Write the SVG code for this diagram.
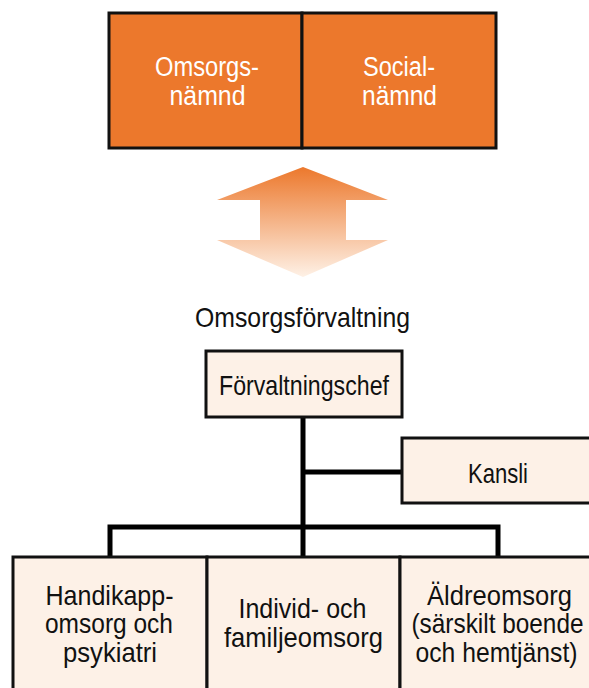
<svg xmlns="http://www.w3.org/2000/svg" width="589" height="688" viewBox="0 0 589 688">
<style>
  .t { font-family: "Liberation Sans", Arial, sans-serif; font-size: 28px; fill: #111; text-anchor: middle; }
  .w { fill: #ffffff; font-size: 27px; }
  .box { fill: #FDF1E7; stroke: #111; stroke-width: 3; }
  .obox { fill: #EC782C; stroke: #111; stroke-width: 3; }
  .conn { fill: none; stroke: #000; stroke-width: 5; stroke-linejoin: miter; stroke-linecap: butt; }
</style>
<defs>
  <linearGradient id="ag" x1="0" y1="0" x2="0" y2="1">
    <stop offset="0" stop-color="#EC782C"/>
    <stop offset="1" stop-color="#FEF1E6"/>
  </linearGradient>
</defs>
<rect width="589" height="688" fill="#ffffff"/>

<g id="connectors">
  <path class="conn" d="M303 417 V557"/>
  <path class="conn" d="M303 472 H402"/>
  <path class="conn" d="M110 557 V527 H498 V557"/>
</g>

<g id="omsorgsnamnd">
  <rect class="obox" x="109" y="13" width="193" height="135"/>
  <text class="t w" x="207" y="76" textLength="104" lengthAdjust="spacingAndGlyphs">Omsorgs-</text>
  <text class="t w" x="207.5" y="105" textLength="76" lengthAdjust="spacingAndGlyphs">nämnd</text>
</g>
<g id="socialnamnd">
  <rect class="obox" x="302" y="13" width="194" height="135"/>
  <text class="t w" x="399" y="76" textLength="72" lengthAdjust="spacingAndGlyphs">Social-</text>
  <text class="t w" x="399.5" y="105" textLength="75" lengthAdjust="spacingAndGlyphs">nämnd</text>
</g>

<g id="arrow">
  <polygon points="303,167 388,200 346,200 346,240 388,240 303,277 217,240 260,240 260,200 217,200" fill="url(#ag)"/>
</g>

<g id="omsorgsforvaltning">
  <text class="t" x="302.5" y="327" textLength="215" lengthAdjust="spacingAndGlyphs">Omsorgsförvaltning</text>
</g>

<g id="forvaltningschef">
  <rect class="box" x="206" y="351" width="196" height="66"/>
  <text class="t" x="304" y="395" textLength="170" lengthAdjust="spacingAndGlyphs">Förvaltningschef</text>
</g>

<g id="kansli">
  <rect class="box" x="402" y="438" width="190" height="65"/>
  <text class="t" x="498" y="483" textLength="60" lengthAdjust="spacingAndGlyphs">Kansli</text>
</g>

<g id="handikapp">
  <rect class="box" x="13" y="557" width="194" height="150"/>
  <text class="t" x="109.5" y="605" textLength="128" lengthAdjust="spacingAndGlyphs">Handikapp-</text>
  <text class="t" x="109" y="633" textLength="128" lengthAdjust="spacingAndGlyphs">omsorg och</text>
  <text class="t" x="110" y="662" textLength="94" lengthAdjust="spacingAndGlyphs">psykiatri</text>
</g>
<g id="individ">
  <rect class="box" x="207" y="557" width="193" height="150"/>
  <text class="t" x="302.5" y="618" textLength="128" lengthAdjust="spacingAndGlyphs">Individ- och</text>
  <text class="t" x="303.5" y="647" textLength="159" lengthAdjust="spacingAndGlyphs">familjeomsorg</text>
</g>
<g id="aldreomsorg">
  <rect class="box" x="400" y="557" width="192" height="150"/>
  <text class="t" x="499.5" y="605" textLength="145" lengthAdjust="spacingAndGlyphs">Äldreomsorg</text>
  <text class="t" x="497.5" y="633" textLength="172" lengthAdjust="spacingAndGlyphs">(särskilt boende</text>
  <text class="t" x="496.5" y="662" textLength="162" lengthAdjust="spacingAndGlyphs">och hemtjänst)</text>
</g>
</svg>
